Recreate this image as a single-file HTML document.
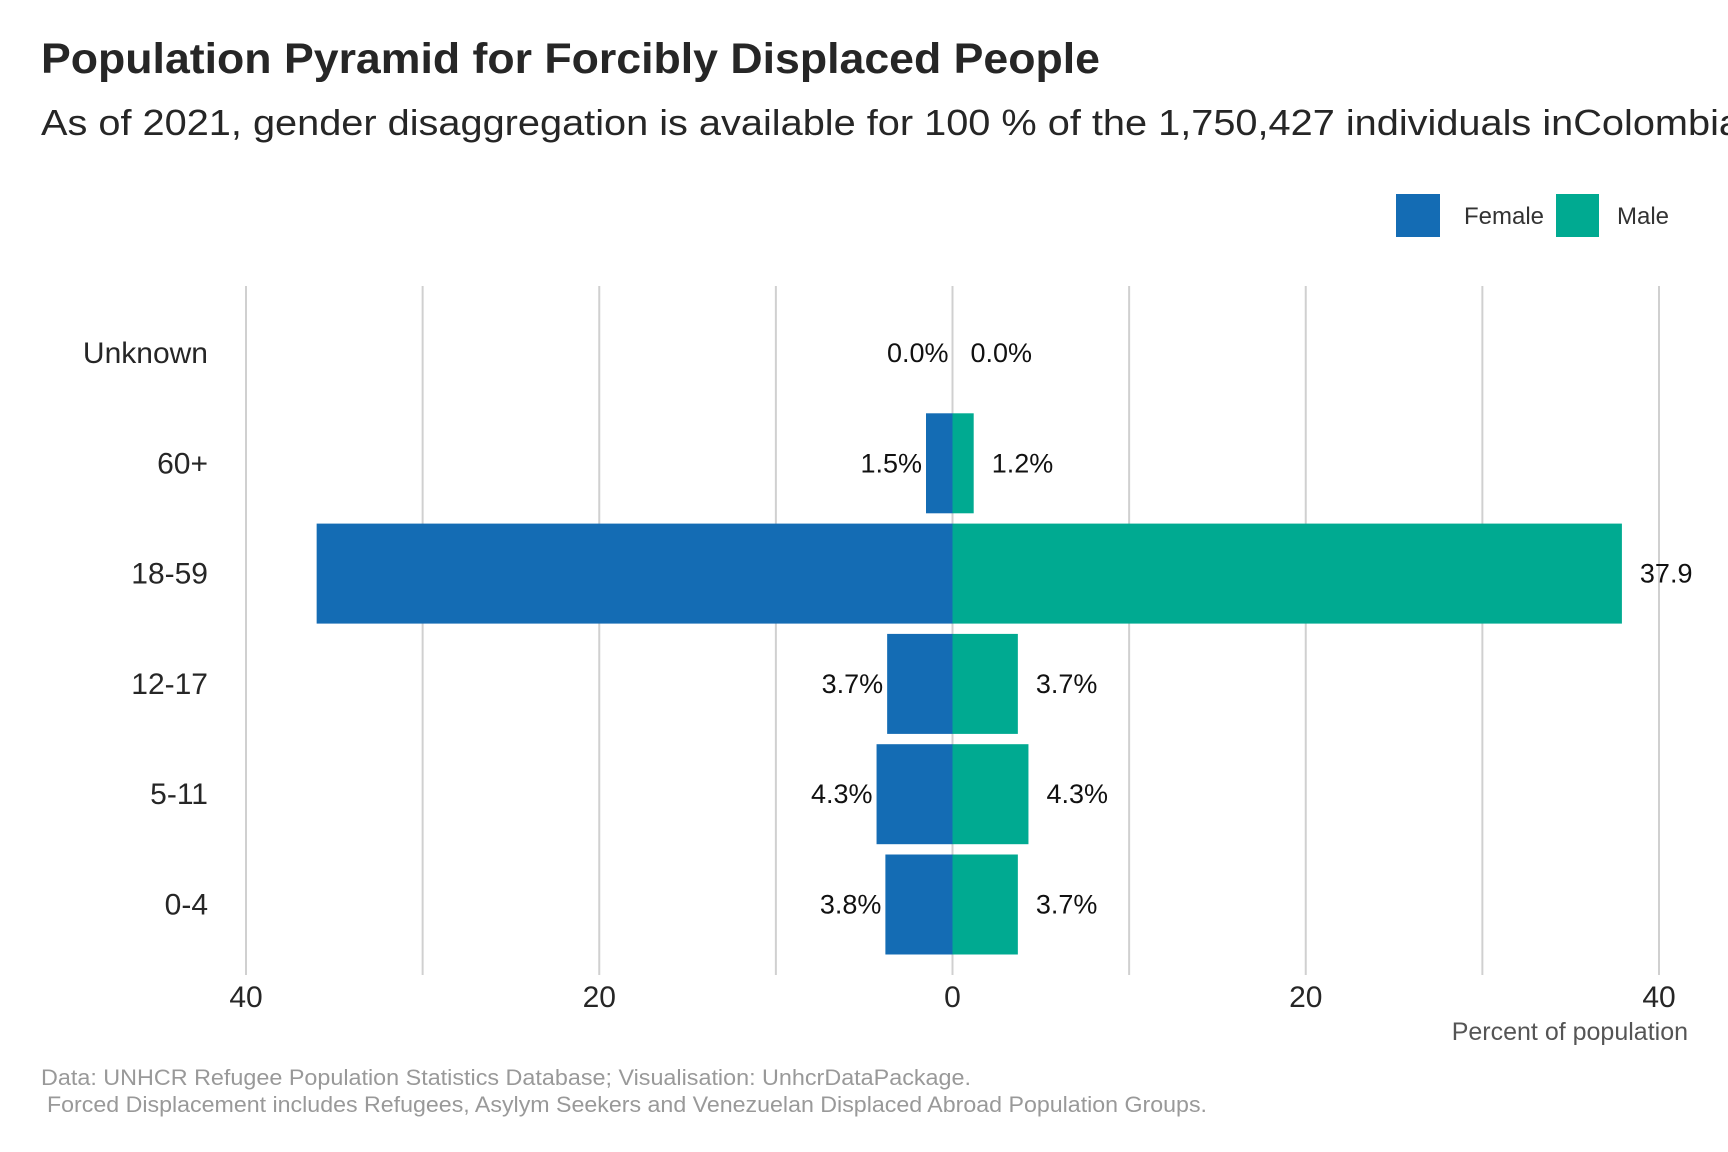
<!DOCTYPE html>
<html><head><meta charset="utf-8"><style>
body{margin:0;background:#fff;}
svg{display:block;font-family:"Liberation Sans",sans-serif;}
</style></head><body>
<svg id="chart" width="1728" height="1152" viewBox="0 0 1728 1152">
<text x="41" y="73" font-size="43" font-weight="bold" fill="#262626" textLength="1059" lengthAdjust="spacingAndGlyphs">Population Pyramid for Forcibly Displaced People</text>
<text x="41" y="135" font-size="36" fill="#262626" textLength="1700" lengthAdjust="spacingAndGlyphs">As of 2021, gender disaggregation is available for 100 % of the 1,750,427 individuals inColombia</text>
<g>
<rect x="1396" y="194" width="44" height="43" fill="#146cb4"/>
<text x="1464" y="224" font-size="24" fill="#333" textLength="80" lengthAdjust="spacingAndGlyphs">Female</text>
<rect x="1556" y="194" width="43" height="43" fill="#00aa91"/>
<text x="1617" y="224" font-size="24" fill="#333">Male</text>
</g>
<g id="grid"></g><g id="bars"></g><g id="labels"></g>
<text x="1688" y="1040" font-size="25" fill="#555" text-anchor="end">Percent of population</text>
<text x="41" y="1085" font-size="22" fill="#999" textLength="930" lengthAdjust="spacingAndGlyphs">Data: UNHCR Refugee Population Statistics Database; Visualisation: UnhcrDataPackage.</text>
<text x="47" y="1112" font-size="22" fill="#999" textLength="1160" lengthAdjust="spacingAndGlyphs">Forced Displacement includes Refugees, Asylym Seekers and Venezuelan Displaced Abroad Population Groups.</text>
</svg>
<script>
const categories=["Unknown","60+","18-59","12-17","5-11","0-4"];
const femaleValues=[0.0,1.5,36.0,3.7,4.3,3.8];
const maleValues=[0.0,1.2,37.9,3.7,4.3,3.7];
const femaleLabels=["0.0%","1.5%","","3.7%","4.3%","3.8%"];
const maleLabels=["0.0%","1.2%","37.9","3.7%","4.3%","3.7%"];
const xTicks=[-40,-30,-20,-10,0,10,20,30,40];
const xTickLabels=["40","","20","","0","","20","","40"];
const NS="http://www.w3.org/2000/svg";
const xLeft=246,xRight=1659;
const pxPer=(xRight-xLeft)/80,x0=(xLeft+xRight)/2;
const xs=v=>x0+v*pxPer;
const rowTop=353,rowStep=110.3,barH=100;
const ys=i=>rowTop+i*rowStep;
function mk(t,a,p){const e=document.createElementNS(NS,t);for(const k in a)e.setAttribute(k,a[k]);p.appendChild(e);return e;}
const grid=document.getElementById('grid'),bars=document.getElementById('bars'),labels=document.getElementById('labels');
xTicks.forEach((t,i)=>{
 const l=mk('line',{x1:xs(t),x2:xs(t),y1:286,y2:975,stroke:'#d0d0d0','stroke-width':2},grid);
 
 
 if(xTickLabels[i]){const tx=mk('text',{x:xs(t),y:1007,'font-size':30,fill:'#262626','text-anchor':'middle'},grid);tx.textContent=xTickLabels[i];
 
 }
});
categories.forEach((c,i)=>{
 const cy=ys(i);
 const yl=mk('text',{x:208,y:cy+10,'font-size':30,fill:'#262626','text-anchor':'end'},labels);yl.textContent=c;
 
 
 const fw=femaleValues[i]*pxPer,mw=maleValues[i]*pxPer;
 const fb=mk('rect',{x:x0-fw,y:cy-barH/2,width:fw,height:barH,fill:'#146cb4'},bars);
 
 
 const mb=mk('rect',{x:x0,y:cy-barH/2,width:mw,height:barH,fill:'#00aa91'},bars);
 
 
 if(femaleLabels[i]){const t=mk('text',{x:x0-fw-4,y:cy+9,'font-size':27,fill:'#111','text-anchor':'end'},labels);t.textContent=femaleLabels[i];
 
 }
 if(maleLabels[i]){const t=mk('text',{x:x0+mw+18,y:cy+9,'font-size':27,fill:'#111'},labels);t.textContent=maleLabels[i];
 
 }
});
</script>
</body></html>
